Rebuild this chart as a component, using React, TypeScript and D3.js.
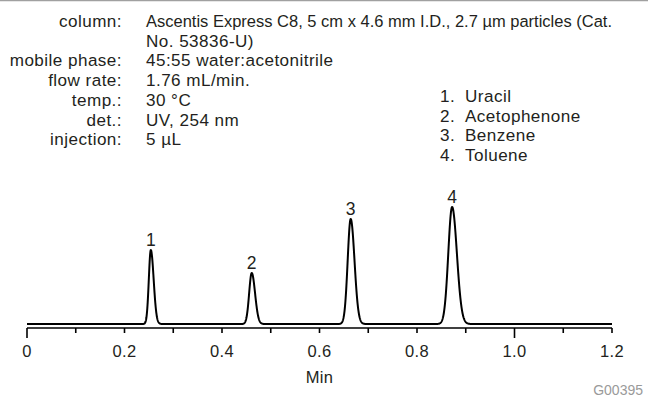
import React from "react";
import * as d3 from "d3";

// ---- data ----
const infoLabels = ["column:", "", "mobile phase:", "flow rate:", "temp.:", "det.:", "injection:"];
const infoValues = [
  "Ascentis Express C8, 5 cm x 4.6 mm I.D., 2.7 µm particles (Cat.",
  "No. 53836-U)",
  "45:55 water:acetonitrile",
  "1.76 mL/min.",
  "30 °C",
  "UV, 254 nm",
  "5 µL",
];
const peakNumbers = ["1", "2", "3", "4"];
const compoundNames = ["Uracil", "Acetophenone", "Benzene", "Toluene"];
const peakTimes = [0.254, 0.461, 0.664, 0.872];
const peakHeights = [74, 51, 105, 117];
const peakSigmaLeft = [0.0041, 0.0053, 0.0062, 0.0078];
const peakSigmaRight = [0.0058, 0.0068, 0.0078, 0.0098];
const majorTicks = [0, 0.2, 0.4, 0.6, 0.8, 1.0, 1.2];
const majorTickLabels = ["0", "0.2", "0.4", "0.6", "0.8", "1.0", "1.2"];
const minorTicks = [0.1, 0.3, 0.5, 0.7, 0.9, 1.1];
const longTicks = [0, 1.0];
const xTitle = "Min";
const figureId = "G00395";

const W = 648;
const H = 398;
const FONT = "'Liberation Sans', Arial, sans-serif";
const INK = "#231f20";

function signal(t: number): number {
  let s = 0;
  for (let i = 0; i < peakTimes.length; i++) {
    const d = t - peakTimes[i];
    const sg = d < 0 ? peakSigmaLeft[i] : peakSigmaRight[i];
    s += peakHeights[i] * Math.exp(-(d * d) / (2 * sg * sg));
  }
  return s;
}

export default function App() {
  const x = d3.scaleLinear().domain([0, 1.2]).range([27, 612]);
  const y = d3.scaleLinear().domain([0, 120]).range([324, 204]);

  const times = d3.range(0, 1.2 + 1e-9, 0.0004);
  const line = d3
    .line<number>()
    .x((t) => x(t))
    .y((t) => y(signal(t)))
    .curve(d3.curveLinear);

  const axisY = 328;
  const lineH = 19.7;
  const fs = 17.1;
  const ls = 0.45;

  return (
    <svg
      width={W}
      height={H}
      style={{ position: "absolute", left: 0, top: 0, background: "#fff" }}
      fontFamily={FONT}
    >
      <rect x={0} y={0} width={W} height={H} fill="#fff" />
      <line x1={0} x2={W} y1={0.5} y2={0.5} stroke="#a0a0a0" strokeWidth={1.5} />

      {/* info block */}
      {infoLabels.map((l, i) => (
        <text
          key={"l" + i}
          x={122}
          y={27 + i * lineH}
          textAnchor="end"
          fontSize={fs}
          letterSpacing={ls}
          fill={INK}
        >
          {l}
        </text>
      ))}
      {infoValues.map((v, i) => (
        <text
          key={"v" + i}
          x={146}
          y={27 + i * lineH}
          fontSize={fs}
          fill={INK}
          {...(i === 0
            ? { textLength: 466, lengthAdjust: "spacingAndGlyphs" }
            : { letterSpacing: ls })}
        >
          {v}
        </text>
      ))}

      {/* legend */}
      {compoundNames.map((n, i) => (
        <g key={"c" + i}>
          <text x={440} y={102 + i * lineH} fontSize={fs} letterSpacing={ls} fill={INK}>
            {peakNumbers[i] + "."}
          </text>
          <text x={465} y={102 + i * lineH} fontSize={fs} letterSpacing={ls} fill={INK}>
            {n}
          </text>
        </g>
      ))}

      {/* trace */}
      <path d={line(times) || ""} fill="none" stroke="#000" strokeWidth={2} strokeLinejoin="round" />

      {/* peak labels */}
      {peakTimes.map((t, i) => (
        <text
          key={"p" + i}
          x={x(t)}
          y={y(peakHeights[i]) - 4}
          textAnchor="middle"
          fontSize={17.5}
          fill={INK}
        >
          {peakNumbers[i]}
        </text>
      ))}

      {/* axis */}
      <line x1={x(0)} x2={x(1.2)} y1={axisY} y2={axisY} stroke="#000" strokeWidth={1.6} />
      {majorTicks.concat(minorTicks).map((t, i) => (
        <line
          key={"t" + i}
          x1={x(t)}
          x2={x(t)}
          y1={axisY}
          y2={axisY + (longTicks.includes(t) ? 10 : 5)}
          stroke="#000"
          strokeWidth={1.6}
        />
      ))}
      {majorTicks.map((t, i) => (
        <text key={"tl" + i} x={x(t)} y={357} textAnchor="middle" fontSize={16.5} letterSpacing={0.3} fill={INK}>
          {majorTickLabels[i]}
        </text>
      ))}
      <text x={(x(0) + x(1.2)) / 2} y={383} textAnchor="middle" fontSize={16.5} letterSpacing={0.3} fill={INK}>
        {xTitle}
      </text>
      <text x={643} y={395} textAnchor="end" fontSize={14} fill="#9a9a9a">
        {figureId}
      </text>
    </svg>
  );
}
